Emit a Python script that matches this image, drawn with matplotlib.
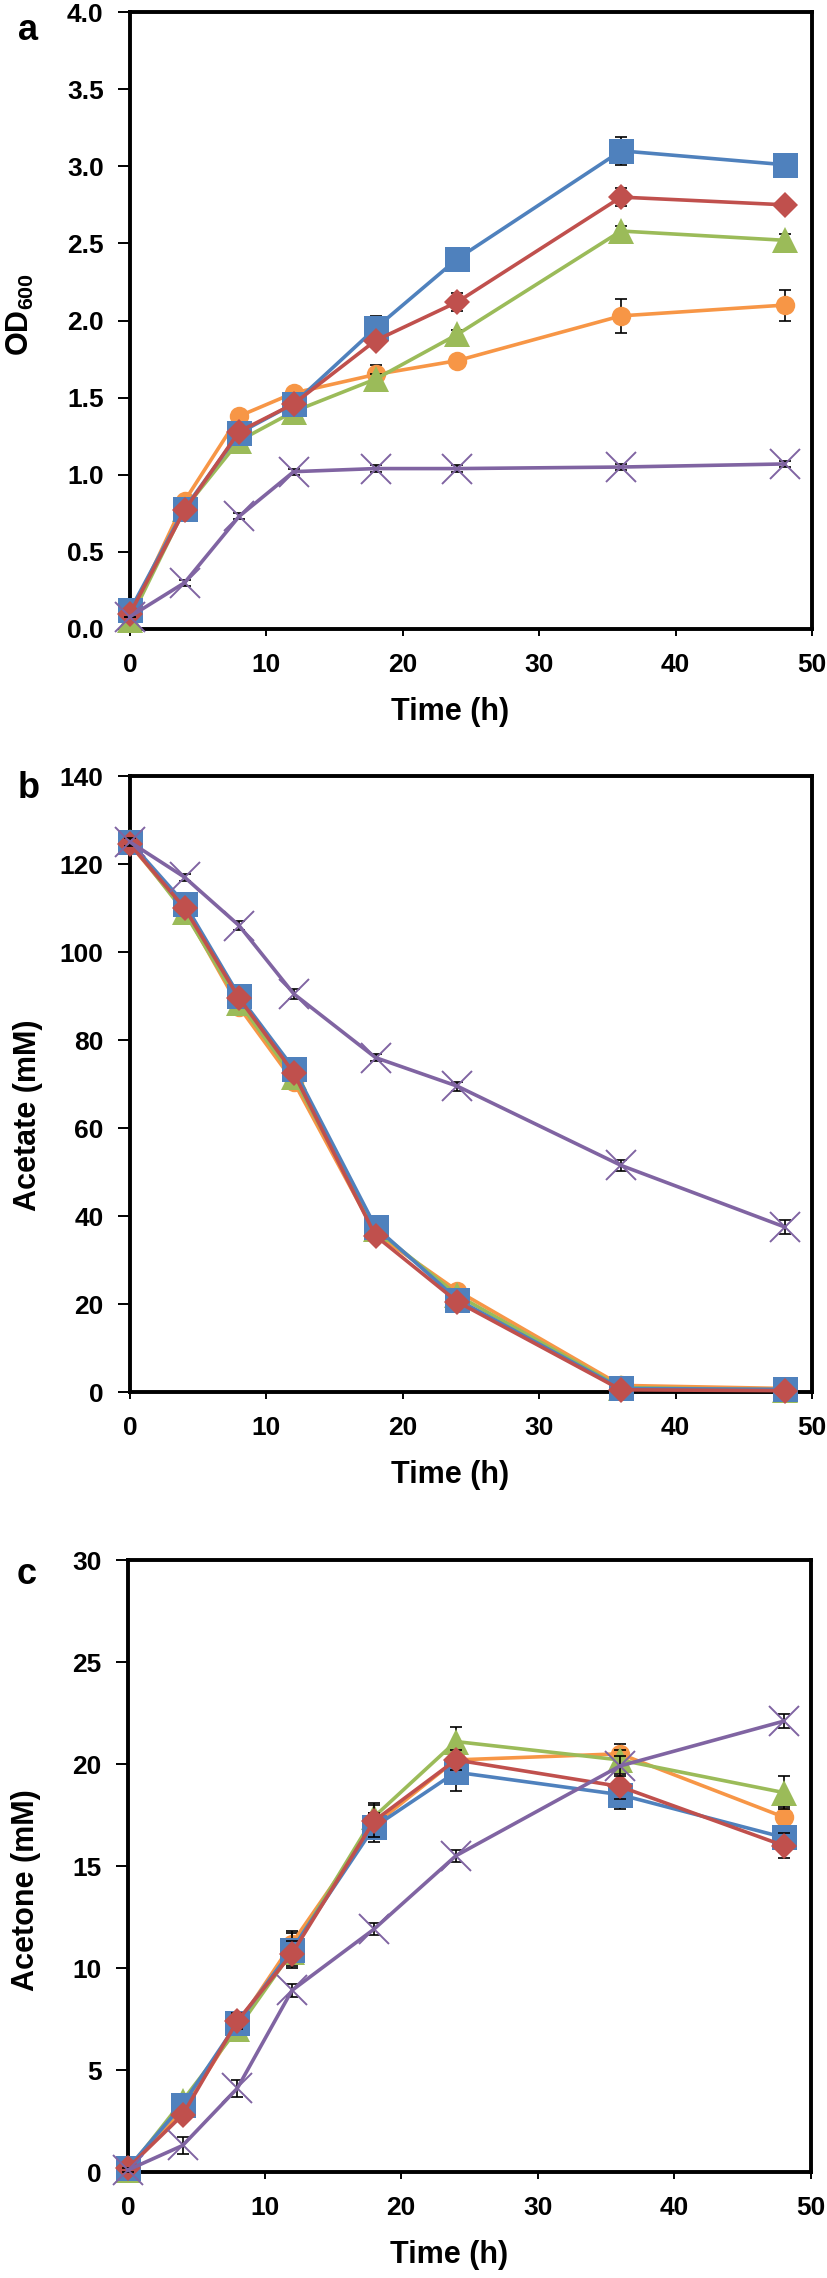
#!/usr/bin/env python3
"""Growth, acetate uptake and acetone production over time (panels a-c)."""

import numpy as np
import matplotlib
matplotlib.use("Agg")
import matplotlib.pyplot as plt

plt.rcParams["font.family"] = ["Liberation Sans", "DejaVu Sans"]
plt.rcParams["font.weight"] = "bold"
plt.rcParams["mathtext.fontset"] = "custom"
plt.rcParams["mathtext.rm"] = "Liberation Sans:bold"
plt.rcParams["mathtext.bf"] = "Liberation Sans:bold"

time_h = [0, 4, 8, 12, 18, 24, 36, 48]

# panel a: OD600
od_blue = [0.12, 0.78, 1.27, 1.46, 1.95, 2.40, 3.10, 3.01]
od_red = [0.10, 0.77, 1.28, 1.46, 1.87, 2.12, 2.80, 2.75]
od_green = [0.06, 0.78, 1.22, 1.41, 1.62, 1.91, 2.58, 2.52]
od_orange = [0.08, 0.83, 1.38, 1.53, 1.65, 1.74, 2.03, 2.10]
od_purple = [0.08, 0.30, 0.73, 1.02, 1.04, 1.04, 1.05, 1.07]
od_err_blue = [0, 0.02, 0.02, 0.03, 0.08, 0.03, 0.09, 0.03]
od_err_red = [0, 0.02, 0.02, 0.02, 0.03, 0.06, 0.06, 0.04]
od_err_green = [0, 0.02, 0.02, 0.02, 0.03, 0.03, 0.03, 0.04]
od_err_orange = [0, 0.02, 0.02, 0.03, 0.06, 0.03, 0.11, 0.10]
od_err_purple = [0, 0.02, 0.02, 0.02, 0.02, 0.02, 0.02, 0.02]

# panel b: acetate (mM)
ac_blue = [125.0, 111.0, 90.0, 73.5, 37.5, 21.0, 0.8, 0.6]
ac_red = [124.5, 110.0, 89.5, 72.5, 35.5, 20.5, 0.5, 0.3]
ac_green = [125.0, 109.0, 88.5, 71.5, 37.0, 22.0, 1.0, 0.5]
ac_orange = [124.5, 109.5, 87.5, 70.5, 36.0, 23.0, 1.5, 0.8]
ac_purple = [125.0, 117.0, 106.0, 90.5, 76.0, 69.5, 51.5, 37.5]
ac_err_purple = [0.8, 0.8, 1.0, 1.2, 0.8, 1.0, 1.2, 1.5]

# panel c: acetone (mM)
an_blue = [0.2, 3.3, 7.3, 10.9, 16.9, 19.6, 18.5, 16.4]
an_red = [0.2, 2.8, 7.4, 10.7, 17.2, 20.2, 18.9, 16.0]
an_green = [0.1, 3.5, 7.0, 10.8, 17.4, 21.1, 20.2, 18.6]
an_orange = [0.2, 3.0, 7.2, 11.2, 17.0, 20.2, 20.5, 17.4]
an_purple = [0.1, 1.3, 4.1, 8.9, 11.9, 15.5, 19.9, 22.1]
an_err_blue = [0.1, 0.3, 0.4, 0.9, 0.7, 0.9, 0.7, 0.5]
an_err_red = [0.1, 0.3, 0.4, 0.6, 0.8, 0.5, 0.6, 0.6]
an_err_green = [0.1, 0.3, 0.5, 0.6, 0.7, 0.7, 0.5, 0.8]
an_err_orange = [0.1, 0.3, 0.4, 0.5, 0.6, 0.5, 0.5, 0.5]
an_err_purple = [0.1, 0.4, 0.4, 0.3, 0.3, 0.3, 0.5, 0.35]

BLUE = "#4F81BD"
RED = "#C0504D"
GREEN = "#9BBB59"
PURPLE = "#8064A2"
ORANGE = "#F79646"

# (color, marker, size, zorder)
STYLES = {
    "orange": (ORANGE, "o", 14, 4),
    "green": (GREEN, "^", 19, 5),
    "blue": (BLUE, "s", 18, 6),
    "red": (RED, "D", 13.5, 7),
    "purple": (PURPLE, "x", 21, 8),
}


def draw_series(ax, name, y, yerr):
    color, marker, ms, z = STYLES[name]
    if yerr is not None:
        # error bars sit under the markers, only the ends peek out
        ax.errorbar(time_h, y, yerr=yerr, fmt="none", ecolor="black",
                    elinewidth=1.2, capsize=4, capthick=1.2, zorder=z - 0.5, clip_on=False)
    mew = 1.4 if marker == "x" else 0
    ax.plot(time_h, y, color=color, lw=2.6, marker=marker, ms=ms,
            mfc=color, mec=color, mew=mew, zorder=z, clip_on=False)


def style_axes(ax, ymax, ystep, yfmt, ylabel, ylabel_y):
    ax.set_xlim(0, 50)
    ax.set_ylim(0, ymax)
    ax.set_xticks(np.arange(0, 51, 10))
    ax.set_yticks(np.arange(0, ymax + ystep / 2, ystep))
    ax.set_yticklabels([yfmt.format(v) for v in np.arange(0, ymax + ystep / 2, ystep)])
    for s in ax.spines.values():
        s.set_linewidth(2.8)
        s.set_color("black")
    ax.tick_params(axis="y", direction="out", length=9, width=1.4, pad=10, labelsize=19)
    ax.tick_params(axis="x", direction="out", length=5, width=1.4, pad=12, labelsize=19)
    ax.set_ylabel(ylabel, fontsize=22, fontweight="bold", va="center")
    ax.yaxis.set_label_coords(-0.150, ylabel_y)
    ax.set_xlabel("Time (h)", fontsize=22, fontweight="bold", va="center")
    ax.xaxis.set_label_coords(0.47, -0.135)


def main() -> int:
    fig = plt.figure(figsize=(8.27, 22.78), dpi=100)
    W, H = 827, 2278

    def add_axes(x0, y0, x1, y1):
        return fig.add_axes([x0 / W, 1 - y1 / H, (x1 - x0) / W, (y1 - y0) / H])

    ax_a = add_axes(130, 12, 812, 629)
    ax_b = add_axes(130, 776, 812, 1392)
    ax_c = add_axes(128, 1560, 811, 2172)

    # a
    draw_series(ax_a, "orange", od_orange, od_err_orange)
    draw_series(ax_a, "green", od_green, od_err_green)
    draw_series(ax_a, "blue", od_blue, od_err_blue)
    draw_series(ax_a, "red", od_red, od_err_red)
    draw_series(ax_a, "purple", od_purple, od_err_purple)
    style_axes(ax_a, 4.0, 0.5, "{:.1f}", r"OD$_{600}$", 0.51)
    ax_a.yaxis.set_label_coords(-0.160, 0.51)

    # b
    draw_series(ax_b, "orange", ac_orange, None)
    draw_series(ax_b, "green", ac_green, None)
    draw_series(ax_b, "blue", ac_blue, None)
    draw_series(ax_b, "red", ac_red, None)
    draw_series(ax_b, "purple", ac_purple, ac_err_purple)
    style_axes(ax_b, 140, 20, "{:.0f}", "Acetate (mM)", 0.45)

    # c
    draw_series(ax_c, "orange", an_orange, an_err_orange)
    draw_series(ax_c, "green", an_green, an_err_green)
    draw_series(ax_c, "blue", an_blue, an_err_blue)
    draw_series(ax_c, "red", an_red, an_err_red)
    draw_series(ax_c, "purple", an_purple, an_err_purple)
    style_axes(ax_c, 30, 5, "{:.0f}", "Acetone (mM)", 0.46)

    for letter, (px, py) in zip("abc", [(28, 31), (29, 788), (27, 1574)]):
        fig.text(px / W, 1 - py / H, letter, fontsize=26, fontweight="bold",
                 ha="center", va="center")

    fig.savefig("out.png", dpi=100)
    plt.close(fig)
    return 0


if __name__ == "__main__":
    raise SystemExit(main())
